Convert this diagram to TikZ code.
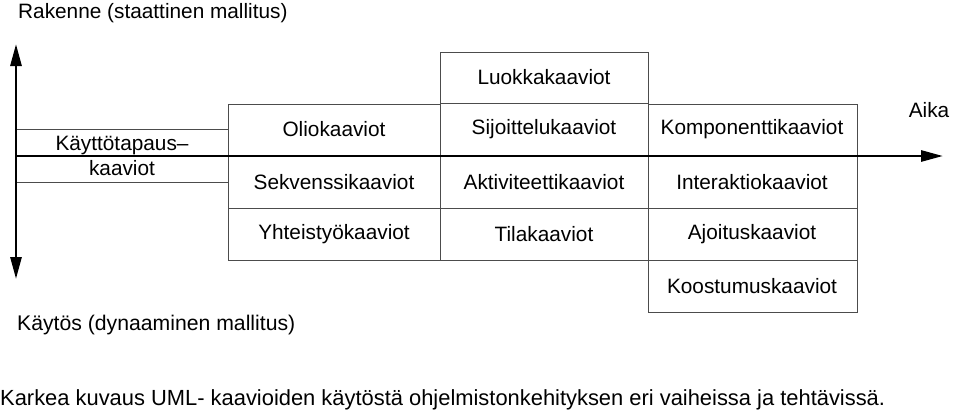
\documentclass[tikz,border=0pt]{standalone}
\usepackage{fontspec}
\setmainfont{Liberation Sans}
\usetikzlibrary{arrows.meta}
\begin{document}
\begin{tikzpicture}[x=1pt,y=-1pt,
  cell/.style={draw=black!70,line width=0.9pt},
  lbl/.style={font=\fontsize{20.8}{24}\selectfont,inner sep=0pt,anchor=center},
  >={Triangle[length=22pt,width=11pt]},
  axis/.style={line width=2.8pt}]
\useasboundingbox (0,0) rectangle (960,413);
% boxes
\draw[cell] (16,129) rectangle (228,182);
\draw[cell] (228,104) rectangle (440,208);
\draw[cell] (228,208) rectangle (440,260);
\draw[cell] (440,52) rectangle (648,103);
\draw[cell] (440,103) rectangle (648,208);
\draw[cell] (440,208) rectangle (648,260);
\draw[cell] (648,104) rectangle (857,208);
\draw[cell] (648,208) rectangle (857,260);
\draw[cell] (648,260) rectangle (857,312);
% labels
\node[lbl,align=center] (kt) at (122,156) {Käyttötapaus–\\[1pt]kaaviot};
\node[lbl] (olio) at (334,129) {Oliokaaviot};
\node[lbl] (sekv) at (334,182) {Sekvenssikaaviot};
\node[lbl] (yht) at (334,234) {Yhteistyökaaviot};
\node[lbl] (luok) at (544,77) {Luokkakaaviot};
\node[lbl] (sij) at (544,129) {Sijoittelukaaviot};
\node[lbl] (akt) at (544,182) {Aktiviteettikaaviot};
\node[lbl] (tila) at (544,234) {Tilakaaviot};
\node[lbl] (komp) at (752,129) {Komponenttikaaviot};
\node[lbl] (inter) at (752,182) {Interaktiokaaviot};
\node[lbl] (ajo) at (752,234) {Ajoituskaaviot};
\node[lbl] (koos) at (752,286) {Koostumuskaaviot};
\node[lbl] (aika) at (929,110) {Aika};
\node[lbl,anchor=west] (rak) at (18,13) {Rakenne (staattinen mallitus)};
\node[lbl,anchor=west,font=\fontsize{21.2}{24}\selectfont] (kay) at (17,325) {Käytös (dynaaminen mallitus)};
\node[lbl,anchor=west,font=\fontsize{21.9}{24}\selectfont] (cap) at (0,400) {Karkea kuvaus UML- kaavioiden käytöstä ohjelmistonkehityksen eri vaiheissa ja tehtävissä.};
% axes
\coordinate (vtop) at (16,44);
\coordinate (vbot) at (16,279);
\coordinate (hstart) at (16,156);
\coordinate (hend) at (943,156);
\draw[axis,<->] (vbot) -- (vtop);
\draw[axis,->] (hstart) -- (hend);
\end{tikzpicture}
\end{document}
